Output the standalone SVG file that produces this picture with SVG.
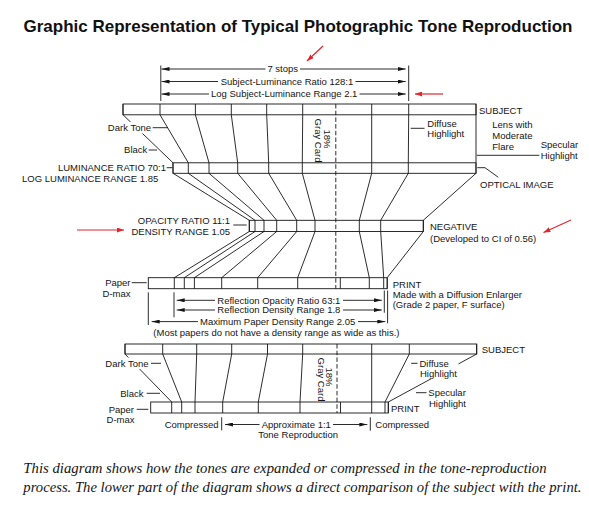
<svg xmlns="http://www.w3.org/2000/svg" width="589" height="505" viewBox="0 0 589 505">
<defs>
<style>
.ln{stroke:#151515;stroke-width:0.9;fill:none}
.dash{stroke:#151515;stroke-width:0.9;fill:none;stroke-dasharray:4.5 2.2}
.t{font-family:"Liberation Sans",Arial,Helvetica,sans-serif;font-size:9.5px;fill:#151515}
.e{text-anchor:end}
.m{text-anchor:middle}
.ko{fill:#fff;stroke:none}
.red{stroke:#e3262d;stroke-width:1.2;fill:none}
.cap{font-family:"Liberation Serif","Times New Roman",serif;font-style:italic;font-size:14px;fill:#151515}
</style>
<marker id="ah" viewBox="0 0 8 4" refX="8" refY="2" markerWidth="8" markerHeight="4" markerUnits="userSpaceOnUse" orient="auto"><path d="M0,0L8,2L0,4z" fill="#151515"/></marker>
<marker id="rh" viewBox="0 0 7 5" refX="7" refY="2.5" markerWidth="7" markerHeight="5" markerUnits="userSpaceOnUse" orient="auto"><path d="M0,0L7,2.5L0,5z" fill="#e3262d"/></marker>
</defs>
<rect width="589" height="505" fill="#fff"/>

<text id="title" x="23.5" y="31.5" textLength="549" lengthAdjust="spacingAndGlyphs" style="font-family:'Liberation Sans',Arial,sans-serif;font-weight:bold;font-size:17px;fill:#111">Graphic Representation of Typical Photographic Tone Reproduction</text>

<g id="top-dimensions" class="ln">
<line x1="160.8" y1="65.5" x2="160.8" y2="101"/>
<line x1="408.7" y1="65.5" x2="408.7" y2="101"/>
<line x1="265.5" y1="69" x2="161.5" y2="69" marker-end="url(#ah)"/>
<line x1="300" y1="69" x2="405.7" y2="69" marker-end="url(#ah)"/>
<line x1="218" y1="81.5" x2="161.5" y2="81.5" marker-end="url(#ah)"/>
<line x1="355.5" y1="81.5" x2="405.7" y2="81.5" marker-end="url(#ah)"/>
<line x1="209" y1="94" x2="161.5" y2="94" marker-end="url(#ah)"/>
<line x1="359.5" y1="94" x2="405.7" y2="94" marker-end="url(#ah)"/>
</g>
<g id="top-dimension-labels" class="t m">
<text x="282.7" y="72.4">7 stops</text>
<text x="287" y="84.9">Subject-Luminance Ratio 128:1</text>
<text x="284.2" y="97.4">Log Subject-Luminance Range 2.1</text>
</g>

<g id="subject-bar"><rect class="ln" x="123" y="104" width="353" height="10.8"/></g>
<g id="luminance-bar"><rect class="ln" x="173" y="162.8" width="303" height="10.5"/></g>
<g id="negative-bar"><rect class="ln" x="249.3" y="220.3" width="174" height="11.2"/></g>
<g id="print-bar"><rect class="ln" x="148.3" y="277.7" width="238.9" height="11"/><line class="ln" x1="340.3" y1="277.7" x2="340.3" y2="288.7"/></g>
<g id="lower-subject-bar"><rect class="ln" x="125" y="344" width="351.7" height="10"/></g>
<g id="lower-print-bar"><rect class="ln" x="150.7" y="402" width="237.6" height="11"/><line class="ln" x1="340.5" y1="402" x2="340.5" y2="413"/></g>

<g id="connectors" class="ln">
<polyline points="123,104 123,114.8 173,162.8 173,173.3 249.3,220.3 249.3,231.5 174.3,277.7 174.3,288.7"/>
<polyline points="160,104 160,114.8 188.3,162.8 188.3,173.3 255,220.3 255,231.5 184.3,277.7 184.3,288.7"/>
<polyline points="195.4,104 195.4,114.8 209,162.8 209,173.3 264,220.3 264,231.5 194.4,277.7 194.4,288.7"/>
<polyline points="231.3,104 231.3,114.8 237.7,162.8 237.7,173.3 276.7,220.3 276.7,231.5 221.7,277.7 221.7,288.7"/>
<polyline points="266.7,104 266.7,114.8 268.7,162.8 268.7,173.3 296.7,220.3 296.7,231.5 257.7,277.7 257.7,288.7"/>
<polyline points="302.7,104 302.7,114.8 302.3,162.8 302.3,173.3 315,220.3 315,231.5 297.7,277.7 297.7,288.7"/>
<polyline points="371.7,104 371.7,114.8 371.7,162.8 371.7,173.3 359.3,220.3 359.3,231.5 369.3,277.7 369.3,288.7"/>
<polyline points="408.7,104 408.7,114.8 408.3,162.8 408.3,173.3 380.7,220.3 380.7,231.5 383.7,277.7 383.7,288.7"/>
<polyline points="476,104 476,114.8 476,162.8 476,173.3 423.3,220.3 423.3,231.5 387.2,277.7 387.2,288.7"/>
<line class="dash" x1="335.8" y1="104" x2="335.8" y2="288.7"/>
<polyline points="125,344 125,354 171.7,402 171.7,413"/>
<polyline points="162.7,344 162.7,354 181.7,402 181.7,413"/>
<polyline points="196.7,344 196.7,354 195,402 195,413"/>
<polyline points="231.7,344 231.7,354 222.7,402 222.7,413"/>
<polyline points="267.5,344 267.5,354 258.3,402 258.3,413"/>
<polyline points="302.7,344 302.7,354 300,402 300,413"/>
<polyline points="371.7,344 371.7,354 371.7,402 371.7,413"/>
<polyline points="409.3,344 409.3,354 385,402 385,413"/>
<polyline points="476.7,344 476.7,354 388.3,402 388.3,413"/>
<line class="dash" x1="337" y1="344" x2="337" y2="413"/>
</g>

<g id="label-knockouts">
<rect class="ko" x="106" y="122" width="46" height="11.5"/>
<rect class="ko" x="104.5" y="357.5" width="45" height="11.5"/>
<rect class="ko" x="418.5" y="357.5" width="40" height="21.5"/>
</g>

<g id="gray-card-labels" class="t m">
<text transform="translate(315.2,140.5) rotate(90)">Gray Card</text>
<text transform="translate(323.5,139) rotate(90)">18%</text>
<text transform="translate(317.5,379.5) rotate(90)">Gray Card</text>
<text transform="translate(325.8,377) rotate(90)">18%</text>
</g>

<g id="leaders" class="ln">
<line x1="152.7" y1="127.7" x2="168" y2="127.7"/>
<line x1="148.6" y1="150" x2="157" y2="150"/>
<line x1="166.7" y1="167.7" x2="172.5" y2="167.7"/>
<line x1="410.7" y1="128.3" x2="424.5" y2="128.3"/>
<line x1="476.7" y1="155.3" x2="539.3" y2="155.3"/>
<polyline points="477.3,167.7 485,167.7 498.3,177.3"/>
<line x1="233.3" y1="225" x2="246.7" y2="225"/>
<line x1="131.7" y1="282.7" x2="146.7" y2="282.7"/>
<line x1="151" y1="363.3" x2="161" y2="363.3"/>
<line x1="146.7" y1="393.3" x2="160" y2="393.3"/>
<line x1="136.7" y1="409.3" x2="148.3" y2="409.3"/>
<line x1="411.2" y1="363.3" x2="417.5" y2="363.3"/>
<line x1="416" y1="392.7" x2="426.5" y2="392.7"/>
</g>

<g id="print-dimensions" class="ln">
<line x1="148.3" y1="292.3" x2="148.3" y2="325"/>
<line x1="174" y1="292.3" x2="174" y2="317.3"/>
<line x1="384.3" y1="290.5" x2="384.3" y2="312.7"/>
<line x1="387.6" y1="290.5" x2="387.6" y2="323.3"/>
<line x1="215" y1="300.3" x2="176.7" y2="300.3" marker-end="url(#ah)"/>
<line x1="343" y1="300.3" x2="381.8" y2="300.3" marker-end="url(#ah)"/>
<line x1="215" y1="310" x2="176.7" y2="310" marker-end="url(#ah)"/>
<line x1="343" y1="310" x2="381.8" y2="310" marker-end="url(#ah)"/>
<line x1="198" y1="321.6" x2="151.7" y2="321.6" marker-end="url(#ah)"/>
<line x1="358" y1="321.6" x2="385.3" y2="321.6" marker-end="url(#ah)"/>
<line x1="221.7" y1="417.3" x2="221.7" y2="430.3"/>
<line x1="370.3" y1="417.3" x2="370.3" y2="430.7"/>
<line x1="259.5" y1="424.5" x2="225" y2="424.5" marker-end="url(#ah)"/>
<line x1="333" y1="424.5" x2="367.3" y2="424.5" marker-end="url(#ah)"/>
</g>

<g id="labels" class="t">
<text x="479" y="113.5">SUBJECT</text>
<text class="e" x="151" y="131">Dark Tone</text>
<text class="e" x="147.3" y="153.4">Black</text>
<text class="e" x="166" y="171.1">LUMINANCE RATIO 70:1</text>
<text class="e" x="158.3" y="181.7">LOG LUMINANCE RANGE 1.85</text>
<text x="427.3" y="126.7">Diffuse</text>
<text x="427.3" y="137.4">Highlight</text>
<text x="492.3" y="128.4">Lens with</text>
<text x="492.3" y="139.4">Moderate</text>
<text x="492.3" y="150.1">Flare</text>
<text x="540.7" y="148.4">Specular</text>
<text x="540.7" y="158.8">Highlight</text>
<text x="480" y="187.7">OPTICAL IMAGE</text>
<text class="e" x="230" y="224.4">OPACITY RATIO 11:1</text>
<text class="e" x="230" y="235.1">DENSITY RANGE 1.05</text>
<text x="430" y="230">NEGATIVE</text>
<text x="430" y="241.7">(Developed to CI of 0.56)</text>
<text class="e" x="130.5" y="286">Paper</text>
<text class="e" x="130.5" y="296.7">D-max</text>
<text x="392.7" y="287.7">PRINT</text>
<text x="392.7" y="298.4">Made with a Diffusion Enlarger</text>
<text x="392.7" y="308.4">(Grade 2 paper, F surface)</text>
<text x="217.3" y="303.7">Reflection Opacity Ratio 63:1</text>
<text x="217.3" y="313.4">Reflection Density Range 1.8</text>
<text x="200" y="325">Maximum Paper Density Range 2.05</text>
<text class="m" x="276.4" y="335.8">(Most papers do not have a density range as wide as this.)</text>
<text x="481.7" y="352.7">SUBJECT</text>
<text class="e" x="148.5" y="366.7">Dark Tone</text>
<text class="e" x="143.5" y="396.7">Black</text>
<text class="e" x="134" y="412.7">Paper</text>
<text class="e" x="134.5" y="423.4">D-max</text>
<text x="419.5" y="366.7">Diffuse</text>
<text x="420" y="376.7">Highlight</text>
<text x="428.3" y="396.1">Specular</text>
<text x="429" y="406.7">Highlight</text>
<text x="391" y="412.4">PRINT</text>
<text class="e" x="218.5" y="427.8">Compressed</text>
<text x="261.7" y="427.8">Approximate 1:1</text>
<text x="258.3" y="438.4">Tone Reproduction</text>
<text x="375.3" y="427.8">Compressed</text>
</g>

<g id="red-annotations" class="red">
<line x1="323" y1="46" x2="307" y2="61" marker-end="url(#rh)"/>
<line x1="443" y1="94" x2="415" y2="94" marker-end="url(#rh)"/>
<line x1="77" y1="230" x2="124" y2="230" marker-end="url(#rh)"/>
<line x1="571" y1="220" x2="543.5" y2="232.5" marker-end="url(#rh)"/>
</g>

<g id="caption" class="cap">
<text x="23.3" y="473" textLength="523.3" lengthAdjust="spacingAndGlyphs">This diagram shows how the tones are expanded or compressed in the tone-reproduction</text>
<text x="23.3" y="491.5" textLength="558.2" lengthAdjust="spacingAndGlyphs">process. The lower part of the diagram shows a direct comparison of the subject with the print.</text>
</g>
</svg>
